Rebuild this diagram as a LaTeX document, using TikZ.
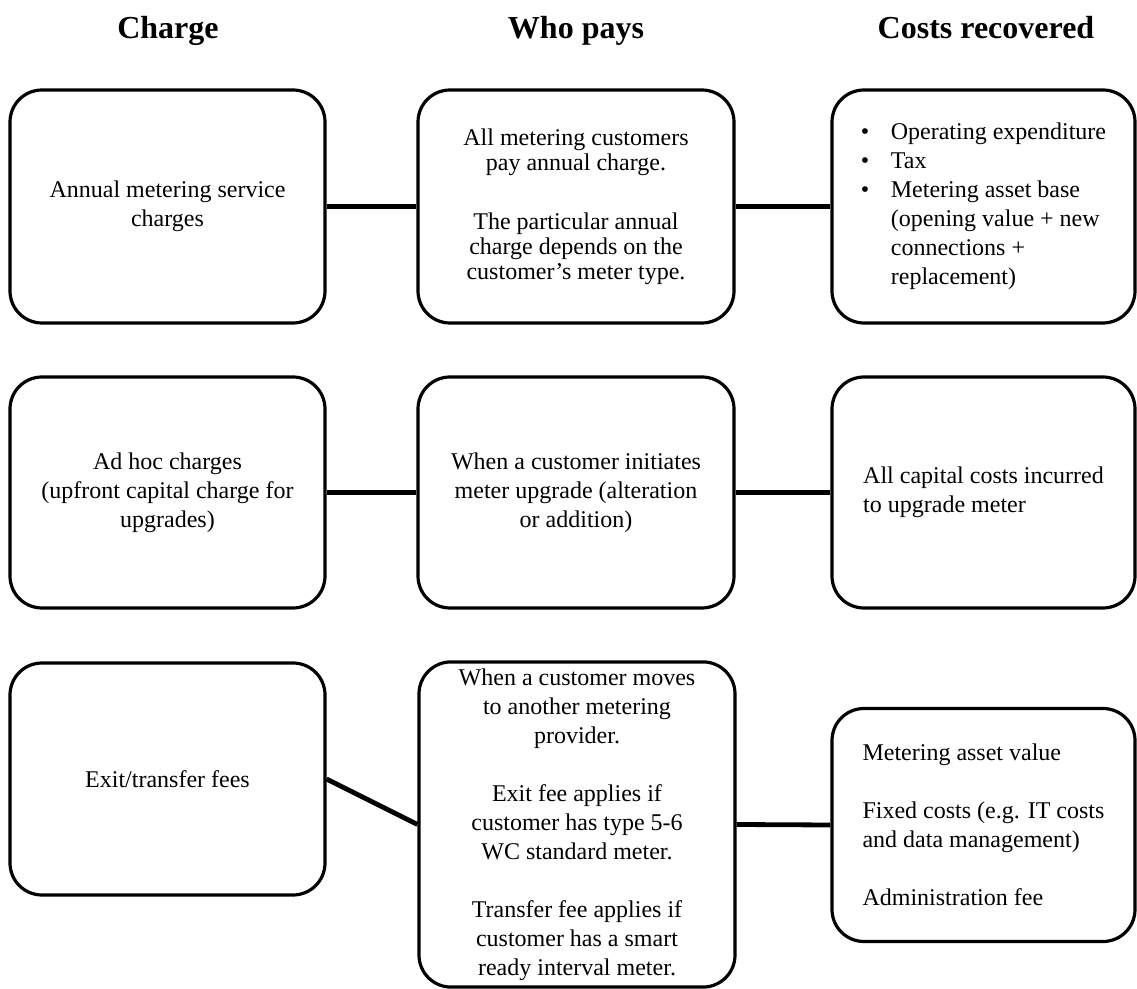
\documentclass[tikz,border=0pt]{standalone}
\usepackage{fontspec}
\setmainfont{Liberation Serif}

\newcommand{\bul}{\makebox[15pt][l]{\textbullet}}
\newcommand{\ind}{\hspace*{15pt}}

\begin{document}
\begin{tikzpicture}[x=0.5pt, y=-0.5pt,
    box/.style={draw, line width=1.6pt, rounded corners=16pt, align=center,
        font=\fontsize{12}{14.5}\selectfont, minimum width=157.5pt, minimum height=116.5pt},
    link/.style={line width=2.4pt},
    head/.style={anchor=base, font=\fontsize{16}{19}\selectfont\bfseries}]
    \useasboundingbox (0,0) rectangle (1137,989);

    \node[head] (hcharge) at (168,39) {Charge};
    \node[head] (hwho) at (576,39) {Who pays};
    \node[head] (hcost) at (986,39) {Costs recovered};

    % first row
    \node[box] (a1) at (167.5,206.5) {Annual metering service\\charges};
    \node[box, minimum width=158pt, font=\fontsize{12}{12.5}\selectfont] (b1) at (576,206.5)
        {All metering customers\\pay annual charge.\\[17pt]The particular annual\\charge depends on the\\customer’s meter type.};
    \node[box, minimum width=151.5pt, align=left] (c1) at (983.5,206.5)
        {\bul Operating expenditure\\\bul Tax\\\bul Metering asset base\\\ind (opening value + new\\\ind connections +\\\ind replacement)};

    % second row
    \node[box, minimum height=115.5pt] (a2) at (167.5,492.5) {Ad hoc charges\\(upfront capital charge for\\upgrades)};
    \node[box, minimum width=158pt, minimum height=115.5pt] (b2) at (576,492.5)
        {When a customer initiates\\meter upgrade (alteration\\or addition)};
    \node[box, minimum width=151.5pt, minimum height=115.5pt, align=left] (c2) at (983.5,492.5)
        {All capital costs incurred\\to upgrade meter};

    % third row
    \node[box, minimum height=116pt] (a3) at (167.5,779) {Exit/transfer fees};
    \node[box, minimum width=158pt, minimum height=162.5pt] (b3) at (577,824.5)
        {When a customer moves\\to another metering\\provider.\\[14.5pt]Exit fee applies if\\customer has type 5-6\\WC standard meter.\\[14.5pt]Transfer fee applies if\\customer has a smart\\ready interval meter.};
    \node[box, minimum width=151.5pt, align=left] (c3) at (983.5,825)
        {Metering asset value\\[14.5pt]Fixed costs (e.g. IT costs\\and data management)\\[14.5pt]Administration fee};

    \draw[link] (a1) -- (b1);
    \draw[link] (b1) -- (c1);
    \draw[link] (a2) -- (b2);
    \draw[link] (b2) -- (c2);
    \draw[link] (a3.east) -- (b3.west);
    \draw[link] (b3.east) -- (c3.west);
\end{tikzpicture}
\end{document}
